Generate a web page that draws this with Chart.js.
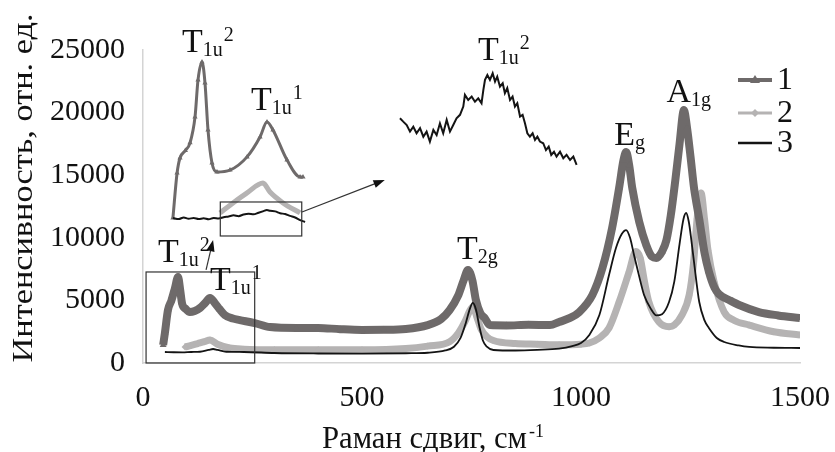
<!DOCTYPE html>
<html>
<head>
<meta charset="utf-8">
<script src="https://cdn.jsdelivr.net/npm/chart.js@4.4.0/dist/chart.umd.min.js"></script>
<style>
  body { margin: 0; background: #fff; }
  #wrap { width: 835px; height: 452px; }
</style>
</head>
<body>
<div id="wrap"><canvas id="raman" width="835" height="452"></canvas></div>
<script>
// Main spectra (Raman shift, cm-1 / intensity)
const s1Shift = [46, 50, 57, 65, 73, 80, 85, 89, 98, 107, 118, 130, 142, 153, 164, 175, 187, 205, 221, 255, 290, 350, 400, 450, 500, 550, 600, 650, 680, 700, 720, 732, 742, 752, 760, 770, 780, 792, 830, 880, 929, 950, 975, 996, 1026, 1049, 1071, 1087, 1097, 1103, 1110, 1117, 1133, 1149, 1162, 1172, 1185, 1195, 1205, 1215, 1225, 1235, 1242, 1250, 1258, 1270, 1282, 1292, 1305, 1315, 1340, 1361, 1406, 1450, 1500];
const s1Int = [1440, 2400, 4230, 5000, 5990, 6870, 5800, 4790, 4300, 4070, 4150, 4390, 4800, 5190, 4790, 4300, 3830, 3550, 3430, 3190, 2870, 2800, 2800, 2700, 2640, 2650, 2720, 3030, 3500, 4230, 5430, 6600, 7430, 6600, 5030, 4000, 3590, 3030, 3000, 3050, 3030, 3270, 3600, 4070, 5430, 7590, 10780, 13980, 16200, 16850, 15800, 13980, 11260, 9420, 8500, 8390, 8900, 9800, 11800, 14500, 17500, 20200, 18800, 16500, 14000, 11500, 8800, 7300, 6000, 5500, 5000, 4630, 4070, 3800, 3590];

const s2Shift = [96, 110, 125, 140, 153, 170, 198, 230, 300, 400, 500, 600, 650, 700, 720, 735, 745, 753, 762, 772, 785, 800, 850, 900, 950, 1000, 1019, 1042, 1064, 1087, 1110, 1125, 1135, 1145, 1155, 1178, 1201, 1213, 1230, 1247, 1257, 1265, 1274, 1282, 1290, 1304, 1327, 1350, 1384, 1440, 1500];
const s2Int = [1280, 1400, 1550, 1700, 1840, 1500, 1200, 1100, 1050, 1050, 1050, 1150, 1350, 1700, 2400, 3300, 4100, 4500, 3700, 2700, 2100, 1800, 1550, 1500, 1450, 1500, 1600, 2000, 2800, 4870, 7300, 8900, 8400, 6500, 4870, 3270, 2900, 3030, 3800, 5430, 8000, 11500, 13580, 11500, 9000, 6470, 4070, 3400, 3030, 2500, 2240];

const s3Shift = [50, 70, 90, 110, 130, 150, 160, 170, 190, 230, 300, 400, 500, 600, 650, 690, 710, 725, 737, 746, 753, 760, 768, 776, 785, 800, 850, 900, 950, 980, 1000, 1019, 1042, 1064, 1080, 1093, 1103, 1112, 1121, 1133, 1144, 1160, 1172, 1185, 1201, 1213, 1225, 1234, 1240, 1246, 1252, 1258, 1270, 1282, 1292, 1310, 1327, 1360, 1384, 1440, 1500];
const s3Int = [880, 860, 850, 880, 900, 1050, 1120, 1050, 900, 880, 800, 760, 750, 780, 820, 1000, 1300, 2000, 3200, 4300, 4800, 4300, 2900, 1800, 1300, 1040, 1000, 1050, 1150, 1350, 1600, 2240, 3830, 7030, 9200, 10300, 10620, 10000, 8630, 6900, 5430, 4300, 3800, 3900, 4870, 6500, 9500, 11500, 11980, 11300, 9800, 8070, 4870, 3400, 2800, 2000, 1680, 1400, 1280, 1220, 1200];

// Inset A: low-frequency region, all three samples
const a1Shift = [45, 50, 53.5, 60, 65.6, 71.6, 75.2, 80, 83.6, 87.2, 92, 98, 113.7, 134.2, 149.8, 158.2, 165.4, 182.3, 198, 201.5];
const a1Int = [800, 2500, 3070, 3350, 3640, 4620, 6020, 6700, 5900, 4130, 2880, 2540, 2610, 3110, 3860, 4430, 4130, 2990, 2350, 2350];
const a2Shift = [101.7, 117.3, 134.2, 153.4, 161.8, 177.5, 198];
const a2Int = [990, 1370, 1750, 2120, 1780, 1370, 990];
const a3Shift = [45, 52, 58, 64, 70, 76, 82, 88, 94, 100, 106, 112, 118, 124, 130, 136, 142, 148, 154, 158, 162, 168, 174, 180, 186, 192, 198, 204];
const a3Int = [800, 760, 820, 770, 800, 760, 790, 750, 800, 780, 830, 860, 900, 870, 930, 960, 940, 1000, 1060, 1100, 1070, 1050, 980, 950, 880, 820, 720, 650];

// Inset B: sample 3, T1u2 band enlarged
const bShift = [104, 105.8, 107.7, 109.5, 111.3, 113.1, 115, 116.8, 118.6, 120.4, 122.3, 124.1, 125.9, 127.7, 129.6, 131.4, 133.2, 135, 136.9, 138.7, 139.6, 141.4, 143.3, 145.1, 146.9, 148.7, 149.7, 150.6, 151.9, 153.3, 154.8, 156.1, 157.3, 158.8, 160.3, 161.5, 162.8, 164.3, 165.7, 167, 168.3, 169.8, 171.2, 172.5, 173.8, 175.2, 176.7, 178, 179.3, 180.7, 182.5, 184, 185.5, 186.9, 188.4, 189.8, 191.7, 193.5, 195.3, 197.2, 199, 200.8];
const bInt = [913, 899, 885, 858, 878, 851, 872, 837, 858, 817, 865, 844, 892, 851, 906, 858, 885, 913, 927, 961, 1009, 988, 1002, 981, 995, 975, 1030, 1071, 1091, 1071, 1098, 1064, 1084, 1043, 1057, 1016, 1037, 988, 1002, 961, 975, 920, 927, 892, 851, 837, 851, 824, 837, 817, 810, 782, 796, 762, 775, 755, 775, 748, 762, 741, 755, 721];

const xTicks = [0, 500, 1000, 1500];
const yTicks = [0, 5000, 10000, 15000, 20000, 25000];
const seriesNames = ['1', '2', '3'];

const SERIF = "'Liberation Serif', 'Times New Roman', serif";
const DARK = '#6e6a6a';
const LIGHT = '#b5b3b3';
const BLACK = '#141414';

const pts = (xs, ys) => xs.map((x, i) => ({ x: x, y: ys[i] }));

// text with subscript / superscript pieces, x = left edge, y = baseline
function richText(ctx, x, y, main, sub, sup) {
  ctx.textAlign = 'left';
  ctx.textBaseline = 'alphabetic';
  ctx.font = '34px ' + SERIF;
  ctx.fillText(main, x, y);
  let cx = x + ctx.measureText(main).width;
  ctx.font = '20px ' + SERIF;
  if (sub) {
    ctx.fillText(sub, cx, y + 4);
    cx += ctx.measureText(sub).width + 1;
  }
  if (sup) ctx.fillText(sup, cx, y - 11);
}

// text stretched to a given width, centred on (cx, cy)
function fitText(ctx, text, cx, cy, width) {
  const w = ctx.measureText(text).width;
  ctx.save();
  ctx.translate(cx, cy);
  ctx.scale(width / w, 1);
  ctx.fillText(text, 0, 0);
  ctx.restore();
}

function arrow(ctx, x1, y1, x2, y2) {
  const ang = Math.atan2(y2 - y1, x2 - x1);
  const len = 12;
  ctx.beginPath();
  ctx.moveTo(x1, y1);
  ctx.lineTo(x2 - Math.cos(ang) * len * 0.8, y2 - Math.sin(ang) * len * 0.8);
  ctx.stroke();
  ctx.beginPath();
  ctx.moveTo(x2, y2);
  ctx.lineTo(x2 - len * Math.cos(ang - 0.35), y2 - len * Math.sin(ang - 0.35));
  ctx.lineTo(x2 - len * Math.cos(ang + 0.35), y2 - len * Math.sin(ang + 0.35));
  ctx.closePath();
  ctx.fill();
}

const decorPlugin = {
  id: 'decor',
  afterDatasetsDraw(chart) {
    const ctx = chart.ctx;
    const { x, y, xa, ya, xb, yb } = chart.scales;
    ctx.save();
    ctx.fillStyle = '#111';
    ctx.strokeStyle = '#333';

    // boxes
    ctx.lineWidth = 1.2;
    let l = x.getPixelForValue(7), r = x.getPixelForValue(255);
    let t = y.getPixelForValue(7270), b = y.getPixelForValue(0);
    ctx.strokeRect(l, t, r - l, b - t);
    l = xa.getPixelForValue(102); r = xa.getPixelForValue(200);
    t = ya.getPixelForValue(1405); b = ya.getPixelForValue(120);
    ctx.strokeRect(l, t, r - l, b - t);

    // arrows
    ctx.lineWidth = 1.2;
    arrow(ctx, x.getPixelForValue(363), y.getPixelForValue(12060), x.getPixelForValue(552), y.getPixelForValue(14620));
    arrow(ctx, x.getPixelForValue(144), y.getPixelForValue(7430), x.getPixelForValue(160), y.getPixelForValue(9820));

    // peak labels
    richText(ctx, xa.getPixelForValue(56), ya.getPixelForValue(7075), 'T', '1u', '2');
    richText(ctx, xa.getPixelForValue(139), ya.getPixelForValue(4880), 'T', '1u', '1');
    richText(ctx, xb.getPixelForValue(146.7), yb.getPixelForValue(1153), 'T', '1u', '2');
    richText(ctx, x.getPixelForValue(34), y.getPixelForValue(8070), 'T', '1u', '2');
    richText(ctx, x.getPixelForValue(153), y.getPixelForValue(5830), 'T', '1u', '1');
    richText(ctx, x.getPixelForValue(717), y.getPixelForValue(8300), 'T', '2g', null);
    richText(ctx, x.getPixelForValue(1076), y.getPixelForValue(17410), 'E', 'g', null);
    richText(ctx, x.getPixelForValue(1195), y.getPixelForValue(20850), 'A', '1g', null);

    // legend
    const rows = [80, 113, 143];
    const cols = [DARK, LIGHT, BLACK];
    const widths = [4, 3, 2.5];
    rows.forEach((ry, i) => {
      ctx.strokeStyle = cols[i];
      ctx.fillStyle = cols[i];
      ctx.lineWidth = widths[i];
      ctx.beginPath();
      ctx.moveTo(738, ry);
      ctx.lineTo(772, ry);
      ctx.stroke();
      if (i === 0) {
        ctx.beginPath();
        ctx.moveTo(755, ry - 5); ctx.lineTo(760, ry + 3); ctx.lineTo(750, ry + 3);
        ctx.closePath(); ctx.fill();
      } else if (i === 1) {
        ctx.beginPath();
        ctx.moveTo(755, ry - 4); ctx.lineTo(759, ry); ctx.lineTo(755, ry + 4); ctx.lineTo(751, ry);
        ctx.closePath(); ctx.fill();
      }
      ctx.fillStyle = '#111';
      ctx.font = '32px ' + SERIF;
      ctx.textAlign = 'left';
      ctx.textBaseline = 'middle';
      ctx.fillText(seriesNames[i], 777, ry + 1);
    });

    // axis titles
    ctx.fillStyle = '#111';
    ctx.font = '30px ' + SERIF;
    ctx.textBaseline = 'middle';
    ctx.textAlign = 'center';
    ctx.save();
    ctx.translate(24, 188);
    ctx.rotate(-Math.PI / 2);
    fitText(ctx, 'Интенсивность, отн. ед.', 0, 0, 349);
    ctx.restore();

    ctx.textBaseline = 'alphabetic';
    ctx.textAlign = 'left';
    const xt = 'Раман сдвиг, см';
    ctx.font = '31px ' + SERIF;
    const sx = 322;
    fitText(ctx, xt, sx, 448, 205);
    ctx.font = '18px ' + SERIF;
    ctx.fillText('-1', sx + 207, 437);
    ctx.restore();
  }
};

const lineBase = { fill: false, cubicInterpolationMode: 'monotone', pointHoverRadius: 0 };
const plain = (v) => String(v);

new Chart(document.getElementById('raman').getContext('2d'), {
  type: 'line',
  data: {
    datasets: [
      Object.assign({}, lineBase, { label: seriesNames[2], data: pts(s3Shift, s3Int), borderColor: BLACK, borderWidth: 1.8, pointRadius: 0, order: 1 }),
      Object.assign({}, lineBase, { label: seriesNames[0], data: pts(s1Shift, s1Int), borderColor: DARK, borderWidth: 8, pointStyle: 'triangle', pointRadius: 4, pointBackgroundColor: DARK, pointBorderWidth: 0, order: 2 }),
      Object.assign({}, lineBase, { label: seriesNames[1], data: pts(s2Shift, s2Int), borderColor: LIGHT, borderWidth: 7, pointStyle: 'rectRot', pointRadius: 3.5, pointBackgroundColor: LIGHT, pointBorderWidth: 0, order: 3 }),
      Object.assign({}, lineBase, { label: 'a3', data: pts(a3Shift, a3Int), xAxisID: 'xa', yAxisID: 'ya', borderColor: BLACK, borderWidth: 2, pointRadius: 0, order: 4 }),
      Object.assign({}, lineBase, { label: 'a1', data: pts(a1Shift, a1Int), xAxisID: 'xa', yAxisID: 'ya', borderColor: DARK, borderWidth: 3, pointStyle: 'triangle', pointRadius: 3, pointBackgroundColor: DARK, pointBorderWidth: 0, order: 5 }),
      Object.assign({}, lineBase, { label: 'a2', data: pts(a2Shift, a2Int), xAxisID: 'xa', yAxisID: 'ya', borderColor: LIGHT, borderWidth: 5, pointRadius: 0, order: 6 }),
      { label: 'b3', data: pts(bShift, bInt), xAxisID: 'xb', yAxisID: 'yb', borderColor: BLACK, borderWidth: 2, pointRadius: 0, tension: 0, fill: false, order: 7 }
    ]
  },
  options: {
    responsive: false,
    animation: false,
    layout: { padding: { left: 0, right: 20, top: 50, bottom: 0 } },
    plugins: { legend: { display: false }, tooltip: { enabled: false } },
    scales: {
      x: {
        type: 'linear', min: 0, max: 1500,
        afterBuildTicks: (s) => { s.ticks = xTicks.map(v => ({ value: v })); },
        afterFit: (s) => { s.height = 89; s.paddingRight = 35; },
        grid: { display: false },
        border: { display: true, color: '#d4d4d4', width: 1.5 },
        ticks: { color: '#111', padding: 9, maxRotation: 0, callback: plain, font: { family: SERIF, size: 30 } }
      },
      y: {
        type: 'linear', min: 0, max: 25000,
        afterBuildTicks: (s) => { s.ticks = yTicks.map(v => ({ value: v })); },
        afterFit: (s) => { s.width = 143; },
        grid: { display: false },
        border: { display: true, color: '#d4d4d4', width: 1.5 },
        ticks: { color: '#111', padding: 10, callback: plain, font: { family: SERIF, size: 30 } }
      },
      xa: { type: 'linear', display: false, min: 9, max: 799.5 },
      ya: { type: 'linear', display: false, min: -4681, max: 7150 },
      xb: { type: 'linear', display: false, min: -36.8, max: 323.2 },
      yb: { type: 'linear', display: false, min: -95, max: 1194 }
    }
  },
  plugins: [decorPlugin]
});
</script>
</body>
</html>
